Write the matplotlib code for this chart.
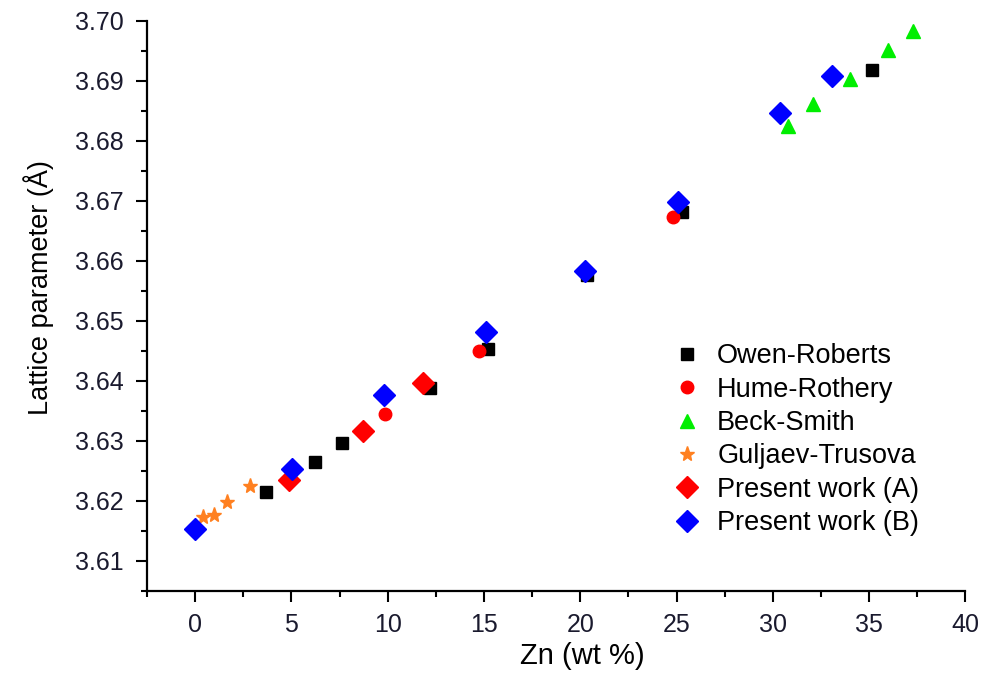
import matplotlib
matplotlib.use("Agg")
import matplotlib.pyplot as plt
from matplotlib.ticker import MultipleLocator, FormatStrFormatter

plt.rcParams['font.family'] = ['Liberation Sans', 'DejaVu Sans']

# Lattice parameter (Å) versus Zn content (wt %)
owen_x = [3.7, 6.2, 7.6, 12.2, 15.2, 20.35, 25.3, 35.15]
owen_y = [3.6215, 3.6265, 3.6297, 3.6388, 3.6453, 3.6577, 3.6682, 3.6918]

hume_x = [9.86, 14.75, 24.8]
hume_y = [3.6345, 3.6449, 3.6673]

beck_x = [30.8, 32.1, 34.0, 36.0, 37.3]
beck_y = [3.6825, 3.6861, 3.6903, 3.6951, 3.6983]

gulj_x = [0.42, 0.99, 1.66, 2.86]
gulj_y = [3.6173, 3.6176, 3.6198, 3.6225]

presA_x = [4.88, 8.72, 11.84]
presA_y = [3.6234, 3.6317, 3.6396]

presB_x = [0.0, 5.04, 9.81, 15.1, 20.25, 25.1, 30.4, 33.1]
presB_y = [3.6153, 3.6253, 3.6377, 3.6481, 3.6583, 3.6698, 3.6846, 3.6908]

fig = plt.figure(figsize=(9.87, 6.76), dpi=100)
ax = fig.add_axes([0.149, 0.126, 0.829, 0.843])

ax.plot(owen_x, owen_y, 's', color='black', ms=8.5, label='Owen-Roberts', linestyle='none')
ax.plot(hume_x, hume_y, 'o', color='#ff0000', ms=9, label='Hume-Rothery', linestyle='none')
ax.plot(beck_x, beck_y, '^', color='#00ee00', ms=10, label='Beck-Smith', linestyle='none')
ax.plot(gulj_x, gulj_y, '*', color='#ff8020', ms=11, label='Guljaev-Trusova', linestyle='none')
ax.plot(presA_x, presA_y, 'D', color='#ff0000', ms=11.5, label='Present work (A)', linestyle='none')
ax.plot(presB_x, presB_y, 'D', color='#0000ff', ms=11.5, label='Present work (B)', linestyle='none')

ax.set_xlim(-2.5, 40)
ax.set_ylim(3.605, 3.70)
ax.xaxis.set_major_locator(MultipleLocator(5))
ax.xaxis.set_minor_locator(MultipleLocator(2.5))
ax.yaxis.set_major_locator(MultipleLocator(0.01))
ax.yaxis.set_minor_locator(MultipleLocator(0.005))
ax.yaxis.set_major_formatter(FormatStrFormatter('%.2f'))

for side in ['top', 'right']:
    ax.spines[side].set_visible(False)
for side in ['left', 'bottom']:
    ax.spines[side].set_linewidth(1.6)

ax.tick_params(which='major', direction='out', length=8, width=1.5, labelsize=18,
               labelcolor='#1a1a2e')
ax.tick_params(axis='x', which='major', pad=8)
ax.tick_params(axis='y', which='major', pad=9)
ax.tick_params(which='minor', direction='out', length=4.5, width=1.5)

ax.set_xlabel('Zn (wt %)', fontsize=21)
ax.set_ylabel('Lattice parameter (Å)', fontsize=19.5)
ax.xaxis.set_label_coords(0.532, -0.09)
ax.yaxis.set_label_coords(-0.114, 0.532)

ax.legend(loc='upper left', bbox_to_anchor=(0.669, 0.508), bbox_transform=fig.transFigure,
          frameon=False, fontsize=19.5, handletextpad=0.5, labelspacing=0.27,
          borderaxespad=0, handlelength=1.2)

fig.savefig('out.png', dpi=100)
